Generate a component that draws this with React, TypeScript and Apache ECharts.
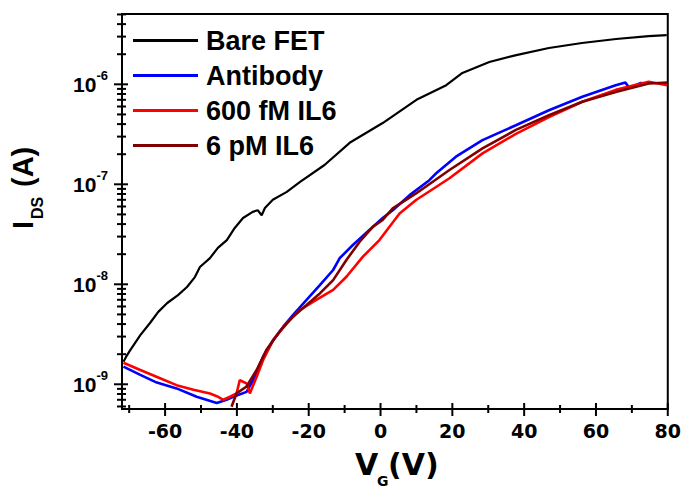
import React, { useEffect, useRef } from 'react';
import * as echarts from 'echarts';

const X_MIN = -72;
const X_MAX = 80;
const Y_MIN = 5.66e-10;
const Y_MAX = 5.05e-6;

const seriesNames = ['Bare FET', 'Antibody', '600 fM IL6', '6 pM IL6'];
const seriesColors = ['#000000', '#0000ff', '#ff0000', '#7f0000'];

const bareFET: [number, number][] = [
  [-71.6, 1.68e-9], [-70.8, 1.9e-9], [-69.7, 2.2e-9], [-66.9, 3.1e-9], [-64.2, 4.1e-9],
  [-61.9, 5.3e-9], [-59.4, 6.5e-9], [-56.4, 7.8e-9], [-53.9, 9.4e-9], [-51.7, 1.18e-8],
  [-50.3, 1.49e-8], [-47.5, 1.83e-8], [-45.3, 2.31e-8], [-42.8, 2.77e-8], [-40.6, 3.66e-8],
  [-38.3, 4.6e-8], [-35.6, 5.3e-8], [-34.2, 5.5e-8], [-33.1, 4.9e-8], [-32.2, 5.8e-8],
  [-30.0, 7.0e-8], [-26.1, 8.4e-8], [-22.5, 1.05e-7], [-15.6, 1.56e-7], [-8.6, 2.6e-7],
  [0.6, 4.1e-7], [10.0, 7.0e-7], [18.3, 9.8e-7], [22.8, 1.3e-6], [30.3, 1.67e-6],
  [37.8, 1.96e-6], [46.9, 2.31e-6], [56.1, 2.59e-6], [65.6, 2.84e-6], [74.7, 3.04e-6],
  [79.7, 3.11e-6],
];

const antibody: [number, number][] = [
  [-71.6, 1.5e-9], [-66.9, 1.24e-9], [-62.3, 1.04e-9], [-56.8, 9.1e-10], [-51.2, 7.5e-10],
  [-45.6, 6.5e-10], [-42.9, 7.0e-10], [-41.0, 7.5e-10], [-37.3, 8.4e-10], [-35.5, 1.1e-9],
  [-32.7, 1.89e-9], [-29.9, 2.77e-9], [-27.1, 3.77e-9], [-24.4, 4.93e-9], [-20.6, 6.97e-9],
  [-16.9, 9.8e-9], [-13.2, 1.39e-8], [-11.4, 1.82e-8], [-7.7, 2.47e-8], [-2.1, 3.77e-8],
  [0.6, 4.6e-8], [3.4, 5.5e-8], [8.1, 7.8e-8], [13.6, 1.1e-7], [15.5, 1.29e-7],
  [21.0, 1.89e-7], [28.4, 2.77e-7], [37.7, 3.9e-7], [46.9, 5.5e-7], [56.2, 7.5e-7],
  [65.5, 9.8e-7], [68.2, 1.04e-6], [69.2, 9.3e-7], [71.0, 9.8e-7], [72.5, 1.03e-6],
  [73.8, 1.02e-6],
];

const il6600fM: [number, number][] = [
  [-71.6, 1.64e-9], [-66.9, 1.39e-9], [-61.4, 1.15e-9], [-56.8, 9.8e-10], [-52.1, 8.8e-10],
  [-47.5, 8.1e-10], [-45.6, 7.6e-10], [-43.8, 7.0e-10], [-41.9, 7.5e-10], [-40.1, 8.1e-10],
  [-39.2, 1.1e-9], [-38.3, 1.06e-9], [-37.3, 1.02e-9], [-36.4, 8.1e-10], [-34.5, 1.19e-9],
  [-32.7, 1.75e-9], [-29.9, 2.77e-9], [-26.2, 4.07e-9], [-22.5, 5.5e-9], [-17.9, 6.97e-9],
  [-13.2, 8.8e-9], [-9.5, 1.19e-8], [-4.9, 1.89e-8], [-0.3, 2.77e-8],
  [5.3, 5.1e-8], [9.9, 6.97e-8], [19.2, 1.15e-7], [28.4, 2.04e-7], [37.7, 3.2e-7],
  [46.9, 4.7e-7], [56.2, 6.7e-7], [65.5, 8.8e-7], [74.7, 1.06e-6], [79.8, 9.8e-7],
];

const il66pM: [number, number][] = [
  [-41.5, 5.97e-10], [-40.1, 8.1e-10], [-37.3, 9.5e-10], [-34.5, 1.39e-9], [-31.8, 2.2e-9],
  [-28.1, 3.36e-9], [-24.4, 4.74e-9], [-20.6, 6.2e-9], [-16.9, 8.1e-9], [-13.2, 1.1e-8],
  [-9.5, 1.75e-8], [-5.8, 2.67e-8], [-2.1, 3.77e-8], [0.6, 4.4e-8], [3.4, 5.75e-8],
  [9.9, 8.1e-8], [19.2, 1.39e-7], [28.4, 2.29e-7], [37.7, 3.5e-7], [46.9, 4.9e-7],
  [56.2, 6.7e-7], [65.5, 8.4e-7], [74.7, 1.02e-6], [79.8, 1.04e-6],
];

const xMajorTicks = [-60, -40, -20, 0, 20, 40, 60, 80];
const xMinorTicks = [-70, -50, -30, -10, 10, 30, 50, 70];
const yMajorTicks = [1e-9, 1e-8, 1e-7, 1e-6];
const yMinorTicks = [
  6e-10, 7e-10, 8e-10, 9e-10,
  2e-9, 3e-9, 4e-9, 5e-9, 6e-9, 7e-9, 8e-9, 9e-9,
  2e-8, 3e-8, 4e-8, 5e-8, 6e-8, 7e-8, 8e-8, 9e-8,
  2e-7, 3e-7, 4e-7, 5e-7, 6e-7, 7e-7, 8e-7, 9e-7,
  2e-6, 3e-6, 4e-6, 5e-6,
];

const ARIAL = "'Liberation Sans', Arial, Helvetica, sans-serif";
const DEJAVU = "'DejaVu Sans', Verdana, sans-serif";

const titleGraphics: any[] = [
  {
    type: 'group',
    silent: true,
    children: [
      {
        type: 'text',
        x: 355,
        y: 464,
        style: { text: 'V', font: `bold 30px ${DEJAVU}`, fill: '#000', align: 'left', verticalAlign: 'middle' },
      },
      {
        type: 'text',
        x: 377,
        y: 481,
        style: { text: 'G', font: `bold 14px ${DEJAVU}`, fill: '#000', align: 'left', verticalAlign: 'middle' },
      },
      {
        type: 'text',
        x: 388,
        y: 464,
        style: { text: '(V)', font: `bold 30px ${DEJAVU}`, fill: '#000', align: 'left', verticalAlign: 'middle' },
      },
    ],
  },
  {
    type: 'group',
    x: 23,
    y: 229,
    rotation: Math.PI / 2,
    silent: true,
    children: [
      {
        type: 'text',
        x: 0,
        y: 0,
        style: { text: 'I', font: `bold 29px ${ARIAL}`, fill: '#000', align: 'left', verticalAlign: 'middle' },
      },
      {
        type: 'text',
        x: 10,
        y: 14,
        style: { text: 'DS', font: `bold 16px ${ARIAL}`, fill: '#000', align: 'left', verticalAlign: 'middle' },
      },
      {
        type: 'text',
        x: 42,
        y: 0,
        style: { text: '(A)', font: `bold 29px ${ARIAL}`, fill: '#000', align: 'left', verticalAlign: 'middle' },
      },
    ],
  },
];

function toNum(v: any): number {
  return Array.isArray(v) ? Number(v[0]) : Number(v);
}

export default function App() {
  const ref = useRef<HTMLDivElement>(null);
  useEffect(() => {
    if (!ref.current) return;
    const chart = echarts.init(ref.current, undefined, { renderer: 'svg' });
    const datasets = [bareFET, antibody, il6600fM, il66pM];
    const lineSeries = datasets.map((d, i) => ({
      name: seriesNames[i],
      type: 'line',
      data: d,
      symbol: 'none',
      showSymbol: false,
      smooth: false,
      clip: false,
      z: 3 + i,
      lineStyle: { color: seriesColors[i], width: i === 0 ? 2.2 : 2.6 },
      itemStyle: { color: seriesColors[i] },
    }));
    chart.setOption({
      animation: false,
      grid: {
        left: 122,
        top: 14,
        width: 547,
        height: 395,
        show: true,
        borderColor: '#000',
        borderWidth: 2,
        backgroundColor: 'transparent',
        containLabel: false,
      },
      legend: {
        show: true,
        orient: 'vertical',
        left: 133,
        top: 27,
        padding: 0,
        icon: 'rect',
        itemWidth: 65,
        itemHeight: 3,
        itemGap: 8,
        data: seriesNames,
        selectedMode: false,
        textStyle: {
          fontFamily: ARIAL,
          fontWeight: 'bold',
          fontSize: 27,
          lineHeight: 27,
          color: '#000',
          padding: [0, 0, 0, 3],
        },
      },
      xAxis: {
        type: 'value',
        min: X_MIN,
        max: X_MAX,
        splitNumber: 8,
        splitLine: { show: false },
        axisTick: { show: false },
        axisLine: { show: true, onZero: false, lineStyle: { color: '#000', width: 2 } },
        axisLabel: {
          customValues: xMajorTicks,
          margin: 12,
          color: '#000',
          fontFamily: DEJAVU,
          fontWeight: 'bold',
          fontSize: 19,
        },
      },
      yAxis: {
        type: 'log',
        min: Y_MIN,
        max: Y_MAX,
        splitLine: { show: false },
        axisTick: { show: false },
        axisLine: { show: true, onZero: false, lineStyle: { color: '#000', width: 2 } },
        axisLabel: {
          showMinLabel: false,
          showMaxLabel: false,
          margin: 14,
          color: '#000',
          formatter: (v: number) => `{b|10}{s|${Math.round(Math.log10(v))}}`,
          rich: {
            b: { fontFamily: ARIAL, fontWeight: 'bold', fontSize: 21, lineHeight: 30, color: '#000' },
            s: {
              fontFamily: ARIAL,
              fontWeight: 'bold',
              fontSize: 13,
              lineHeight: 13,
              verticalAlign: 'top',
              color: '#000',
            },
          },
        },
      },
      series: lineSeries,
    });

    // Axis ticks positioned through the chart's own scales (crossing the axis line)
    const axisY = toNum(chart.convertToPixel({ yAxisIndex: 0 }, Y_MIN));
    const axisX = toNum(chart.convertToPixel({ xAxisIndex: 0 }, X_MIN));
    const ticks: any[] = [];
    const addX = (vals: number[], outLen: number, inLen: number) =>
      vals.forEach((v) => {
        const px = toNum(chart.convertToPixel({ xAxisIndex: 0 }, v));
        ticks.push({
          type: 'rect',
          shape: { x: px - 1, y: axisY - inLen, width: 2, height: inLen + outLen },
          style: { fill: '#000' },
        });
      });
    const addY = (vals: number[], outLen: number, inLen: number) =>
      vals.forEach((v) => {
        const py = toNum(chart.convertToPixel({ yAxisIndex: 0 }, v));
        ticks.push({
          type: 'rect',
          shape: { x: axisX - outLen, y: py - 1, width: outLen + inLen, height: 2 },
          style: { fill: '#000' },
        });
      });
    addX(xMajorTicks, 7, 6);
    addX(xMinorTicks, 4, 4);
    addY(yMajorTicks, 8, 6);
    addY(yMinorTicks, 5, 4);

    chart.setOption({
      graphic: [...titleGraphics, { type: 'group', children: ticks }],
    });
    return () => chart.dispose();
  }, []);
  return (
    <div
      ref={ref}
      style={{ position: 'fixed', left: 0, top: 0, width: 684, height: 489, background: '#fff' }}
    />
  );
}
